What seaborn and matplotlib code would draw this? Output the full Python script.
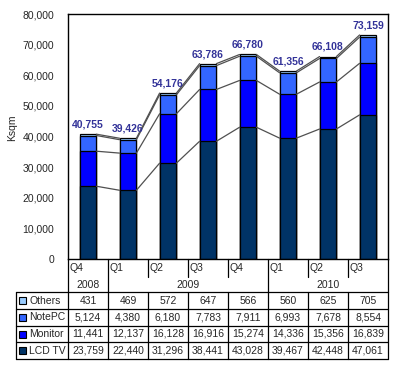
import pandas as pd
import numpy as np
import matplotlib.pyplot as plt
import seaborn as sns
from matplotlib.lines import Line2D
from matplotlib.patches import Rectangle

# data
quarters = ['Q4', 'Q1', 'Q2', 'Q3', 'Q4', 'Q1', 'Q2', 'Q3']
years = ['2008', '2009', '2010']
year_span = [1, 4, 3]
lcd_tv = [23759, 22440, 31296, 38441, 43028, 39467, 42448, 47061]
monitor = [11441, 12137, 16128, 16916, 15274, 14336, 15356, 16839]
notepc = [5124, 4380, 6180, 7783, 7911, 6993, 7678, 8554]
others = [431, 469, 572, 647, 566, 560, 625, 705]
totals = [40755, 39426, 54176, 63786, 66780, 61356, 66108, 73159]

series_names = ['Others', 'NotePC', 'Monitor', 'LCD TV']
series_vals = [others, notepc, monitor, lcd_tv]
colors = ['#99CCFF', '#3366FF', '#0000FF', '#003366']

sns.set_style('white')
plt.rcParams['font.family'] = ['Liberation Sans', 'DejaVu Sans']

W, H = 398, 370
fig = plt.figure(figsize=(W / 100, H / 100), dpi=100)

def fx(x):
    return x / W

def fy(y):
    return 1 - y / H

ax = fig.add_axes([fx(68), fy(259), fx(388) - fx(68), fy(14) - fy(259)])

cats = [q + ' ' + str(i) for i, q in enumerate(quarters)]
df = pd.DataFrame({'cat': cats, 'lcd': lcd_tv, 'mon': monitor, 'note': notepc, 'oth': others})
df['c1'] = df['lcd']
df['c2'] = df['c1'] + df['mon']
df['c3'] = df['c2'] + df['note']
df['c4'] = df['c3'] + df['oth']

bw = 0.42
# overdraw cumulative totals from the top down
for col, c in zip(['c4', 'c3', 'c2', 'c1'], colors):
    sns.barplot(data=df, x='cat', y=col, color=c, saturation=1, width=bw,
                edgecolor='black', linewidth=0.9, ax=ax, order=cats)

# connector lines between bars
for col in ['c1', 'c2', 'c3', 'c4']:
    v = df[col].values
    for i in range(len(v) - 1):
        ax.plot([i + bw / 2, i + 1 - bw / 2], [v[i], v[i + 1]], color='#505050', lw=0.9, zorder=1)

for i, t in enumerate(totals):
    ax.text(i, df['c4'].values[i] + 1500, f'{t:,}', ha='center', va='bottom',
            fontsize=7.5, fontweight='bold', color='#333399')

ax.set_xlim(-0.5, len(cats) - 0.5)
ax.set_ylim(0, 80000)
ax.set_yticks(range(0, 80001, 10000))
ax.set_yticklabels([f'{v:,}' for v in range(0, 80001, 10000)], fontsize=7.5)
ax.tick_params(axis='y', length=0, pad=10)
ax.set_xticks([])
ax.set_xlabel('')
ax.set_ylabel('')
for s in ax.spines.values():
    s.set_color('black')
    s.set_linewidth(1)
fig.text(fx(12), fy(128), 'Ksqm', rotation=90, ha='center', va='center', fontsize=7.5)

def hline(y, x0, x1):
    fig.add_artist(Line2D([fx(x0), fx(x1)], [fy(y), fy(y)], color='black', lw=0.9))

def vline(x, y0, y1):
    fig.add_artist(Line2D([fx(x), fx(x)], [fy(y0), fy(y1)], color='black', lw=0.9))

# category axis area
col_w = 40
left = 68
for i, q in enumerate(quarters):
    fig.text(fx(left + i * col_w + 2), fy(268), q, ha='left', va='center', fontsize=7.5)
pos = 0
bounds = [0]
for y, s in zip(years, year_span):
    cx = left + (pos + s / 2) * col_w
    fig.text(fx(cx), fy(285), y, ha='center', va='center', fontsize=7.5)
    pos += s
    bounds.append(pos)
for i in range(len(quarters) + 1):
    if i in bounds:
        vline(left + i * col_w, 259, 292)
    else:
        vline(left + i * col_w, 259, 277)

# data table
row_y = [292, 309, 326, 342, 359]
tab_left = 16
right = left + col_w * len(quarters)
for y in row_y:
    hline(y, tab_left, right)
vline(tab_left, 292, 359)
for i in range(len(quarters) + 1):
    vline(left + i * col_w, 292, 359)
for r, (name, vals, c) in enumerate(zip(series_names, series_vals, colors)):
    cy = (row_y[r] + row_y[r + 1]) / 2
    fig.add_artist(Rectangle((fx(19), fy(cy + 3.5)), fx(7), fy(0) - fy(7), facecolor=c,
                             edgecolor='black', lw=0.8, transform=fig.transFigure))
    fig.text(fx(29), fy(cy), name, ha='left', va='center', fontsize=7.5)
    for i, v in enumerate(vals):
        fig.text(fx(left + i * col_w + col_w / 2), fy(cy), f'{v:,}', ha='center', va='center', fontsize=7.5)

fig.savefig('out.png', dpi=100)
